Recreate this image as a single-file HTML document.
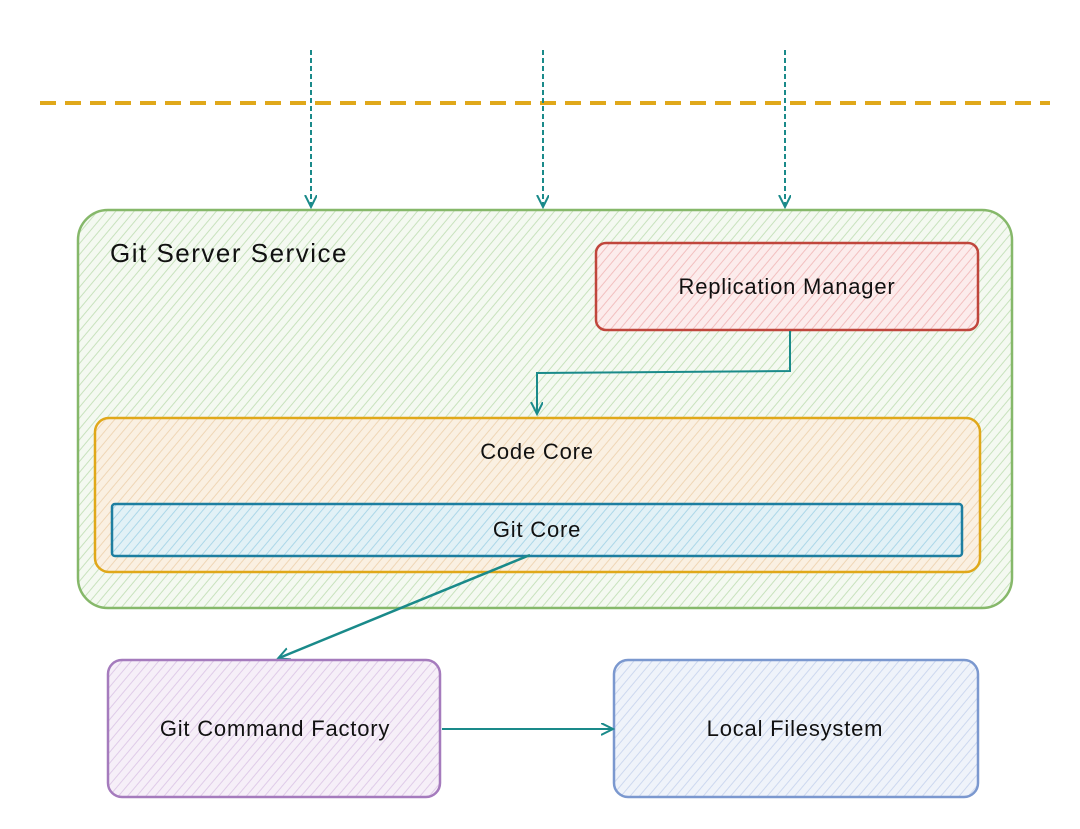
<!DOCTYPE html>
<html><head><meta charset="utf-8"><style>
html,body{margin:0;padding:0;background:#fff;}
svg{display:block;}
text{font-family:"Liberation Sans",sans-serif;fill:#111;letter-spacing:0.8px;}
</style></head><body>
<svg width="1080" height="829" viewBox="0 0 1080 829" xmlns="http://www.w3.org/2000/svg">
<defs>
<pattern id="hg" width="7" height="7" patternUnits="userSpaceOnUse" patternTransform="rotate(40)">
<rect width="7" height="7" fill="#f4f9f1"/><line x1="0" y1="0" x2="0" y2="7" stroke="#c8e2bd" stroke-width="2"/></pattern>
<pattern id="hr" width="7" height="7" patternUnits="userSpaceOnUse" patternTransform="rotate(40)">
<rect width="7" height="7" fill="#fcecec"/><line x1="0" y1="0" x2="0" y2="7" stroke="#f2bfbf" stroke-width="2"/></pattern>
<pattern id="ho" width="7" height="7" patternUnits="userSpaceOnUse" patternTransform="rotate(40)">
<rect width="7" height="7" fill="#faf0e2"/><line x1="0" y1="0" x2="0" y2="7" stroke="#efd6b6" stroke-width="2"/></pattern>
<pattern id="hb" width="7" height="7" patternUnits="userSpaceOnUse" patternTransform="rotate(40)">
<rect width="7" height="7" fill="#e2f1f6"/><line x1="0" y1="0" x2="0" y2="7" stroke="#acd7e8" stroke-width="2"/></pattern>
<pattern id="hp" width="7" height="7" patternUnits="userSpaceOnUse" patternTransform="rotate(40)">
<rect width="7" height="7" fill="#f6eff8"/><line x1="0" y1="0" x2="0" y2="7" stroke="#dfcbe8" stroke-width="2"/></pattern>
<pattern id="hl" width="7" height="7" patternUnits="userSpaceOnUse" patternTransform="rotate(40)">
<rect width="7" height="7" fill="#eff3fa"/><line x1="0" y1="0" x2="0" y2="7" stroke="#cdd8ef" stroke-width="2"/></pattern>
<marker id="ar" markerWidth="14" markerHeight="14" refX="11" refY="6" orient="auto" markerUnits="userSpaceOnUse">
<path d="M0,0 L12,6 L0,12" fill="none" stroke="#1a8a8a" stroke-width="2"/></marker>
</defs>
<line x1="40" y1="103" x2="1050" y2="103" stroke="#e0a81a" stroke-width="4" stroke-dasharray="16,9"/>
<g stroke="#1a8a8a" stroke-width="2" stroke-dasharray="5,3" marker-end="url(#ar)">
<line x1="311" y1="50" x2="311" y2="206"/>
<line x1="543" y1="50" x2="543" y2="206"/>
<line x1="785" y1="50" x2="785" y2="206"/>
</g>
<rect x="78" y="210" width="934" height="398" rx="30" fill="url(#hg)" stroke="#86b86a" stroke-width="2.5"/>
<text x="110" y="262" font-size="26" style="letter-spacing:1.5px">Git Server Service</text>
<rect x="596" y="243" width="382" height="87" rx="10" fill="url(#hr)" stroke="#c0463c" stroke-width="2.5"/>
<text x="787" y="294" font-size="22" text-anchor="middle">Replication Manager</text>
<path d="M790,331 L790,371 L537,373 L537,413" fill="none" stroke="#1a8a8a" stroke-width="2" marker-end="url(#ar)"/>
<rect x="95" y="418" width="885" height="154" rx="14" fill="url(#ho)" stroke="#e0a81a" stroke-width="2.5"/>
<text x="537" y="459" font-size="22" text-anchor="middle">Code Core</text>
<rect x="112" y="504" width="850" height="52" rx="3" fill="url(#hb)" stroke="#1d7ea0" stroke-width="2.5"/>
<text x="537" y="537" font-size="22" text-anchor="middle">Git Core</text>
<line x1="530" y1="555" x2="279" y2="658" stroke="#1a8a8a" stroke-width="2.5" marker-end="url(#ar)"/>
<rect x="108" y="660" width="332" height="137" rx="14" fill="url(#hp)" stroke="#a57bbd" stroke-width="2.5"/>
<text x="275" y="736" font-size="22" text-anchor="middle">Git Command Factory</text>
<rect x="614" y="660" width="364" height="137" rx="14" fill="url(#hl)" stroke="#7b98cf" stroke-width="2.5"/>
<text x="795" y="736" font-size="22" text-anchor="middle">Local Filesystem</text>
<line x1="442" y1="729" x2="612" y2="729" stroke="#1a8a8a" stroke-width="2" marker-end="url(#ar)"/>
</svg>
</body></html>
